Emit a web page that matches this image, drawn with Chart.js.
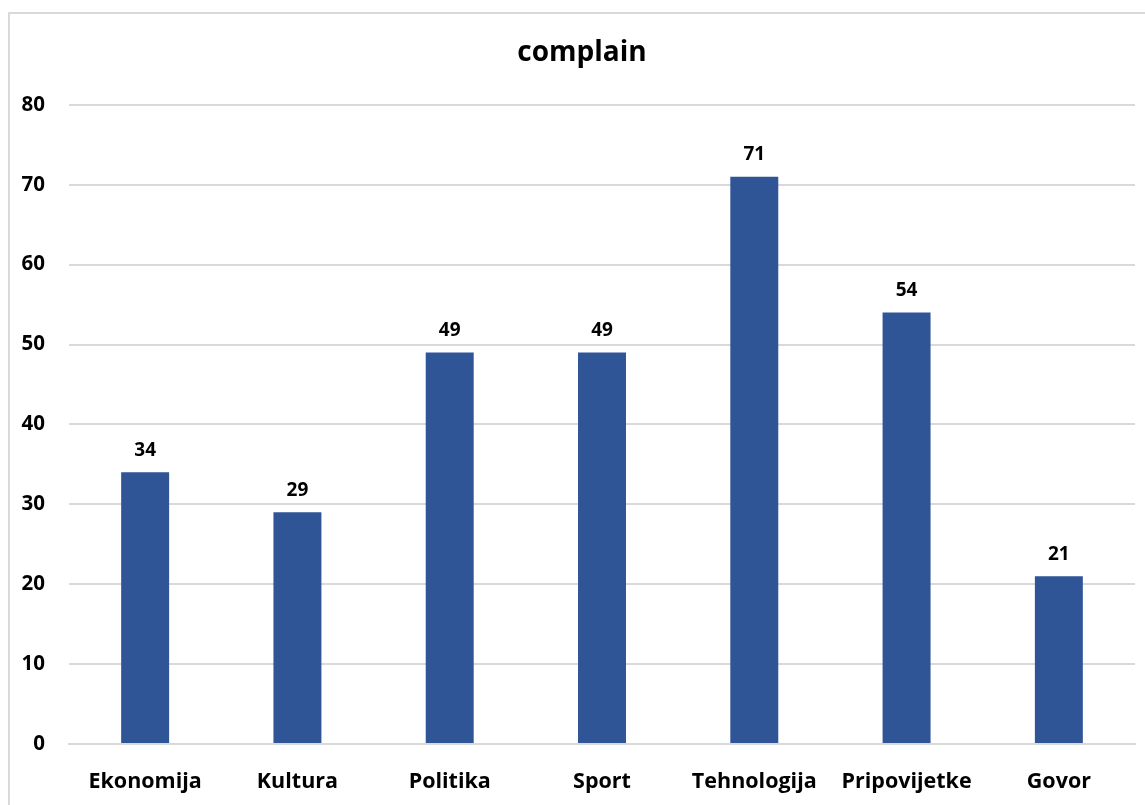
<!DOCTYPE html>
<html>
<head>
<meta charset="utf-8">
<script src="https://cdn.jsdelivr.net/npm/chart.js@4.4.1/dist/chart.umd.min.js"></script>
<style>
  html, body { margin: 0; padding: 0; background: #fff; overflow: hidden; }
  #frame {
    position: absolute; left: 8px; top: 12px;
    width: 1160px; height: 820px;
    border: 2px solid #d9d9d9; box-sizing: border-box;
  }
  /* the chart frame runs past the window on the right, as in the source */
  #wrap { position: absolute; left: 0; top: 0; width: 1164px; height: 805px; }
</style>
</head>
<body>
<div id="frame"></div>
<div id="wrap"><canvas id="c"></canvas></div>
<script>
// complain — counts per category
const TITLE = 'complain';
const categories = ['Ekonomija', 'Kultura', 'Politika', 'Sport', 'Tehnologija', 'Pripovijetke', 'Govor'];
const counts = [34, 29, 49, 49, 71, 54, 21];
const yTicks = [0, 10, 20, 30, 40, 50, 60, 70, 80];

const FONT = '"Open Sans", Lato, sans-serif';
const BAR = '#2F5597';
const GRID = '#d9d9d9';

// value labels above each bar, placed from the bar elements themselves
const valueLabels = {
    id: 'valueLabels',
    afterDatasetsDraw(chart) {
        const ctx = chart.ctx;
        const meta = chart.getDatasetMeta(0);
        ctx.save();
        ctx.font = `bold 19px ${FONT}`;
        ctx.fillStyle = '#000';
        ctx.textAlign = 'center';
        ctx.textBaseline = 'middle';
        meta.data.forEach((bar, i) => {
            ctx.fillText(String(counts[i]), bar.x, bar.y - 22);
        });
        ctx.restore();
    }
};

new Chart(document.getElementById('c').getContext('2d'), {
    type: 'bar',
    data: {
        labels: categories,
        datasets: [{
            label: TITLE,
            data: counts,
            backgroundColor: BAR,
            borderWidth: 0,
            categoryPercentage: 1,
            barPercentage: 0.315
        }]
    },
    options: {
        responsive: true,
        maintainAspectRatio: false,
        animation: false,
        layout: { padding: { left: 0, right: 0, top: 38, bottom: 0 } },
        plugins: {
            legend: { display: false },
            tooltip: { enabled: false },
            title: {
                display: true,
                text: TITLE,
                color: '#000',
                font: { family: FONT, size: 28, weight: 'bold', lineHeight: 1.1 },
                padding: { top: 0, bottom: 36 }
            }
        },
        scales: {
            x: {
                grid: { display: false },
                border: { display: true, color: GRID, width: 2 },
                ticks: {
                    color: '#000',
                    font: { family: FONT, size: 21.5, weight: 'bold' },
                    padding: 17,
                    maxRotation: 0,
                    autoSkip: false
                },
                afterFit: s => { s.height = 61; }
            },
            y: {
                min: 0,
                max: 80,
                afterBuildTicks: s => { s.ticks = yTicks.map(v => ({ value: v })); },
                grid: { color: GRID, lineWidth: 2, drawTicks: false },
                border: { display: false },
                ticks: {
                    color: '#000',
                    font: { family: FONT, size: 20.5, weight: 'bold' },
                    padding: 24
                },
                afterFit: s => { s.width = 69; }
            },
            // empty right-hand margin so the title centres on the whole frame
            yRight: {
                position: 'right',
                min: 0,
                max: 80,
                grid: { display: false },
                border: { display: false },
                ticks: { display: false },
                afterFit: s => { s.width = 29; }
            }
        }
    },
    plugins: [valueLabels]
});
</script>
</body>
</html>
